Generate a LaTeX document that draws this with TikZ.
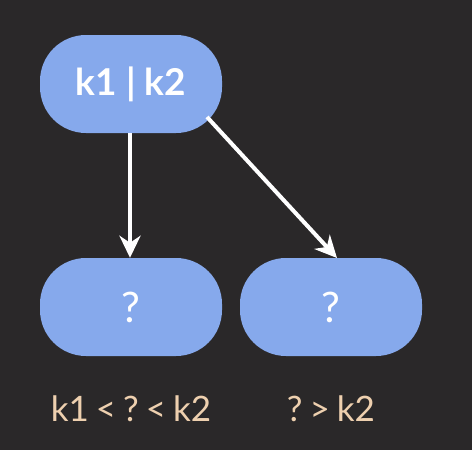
\documentclass[tikz,border=0pt]{standalone}
\usepackage{fontspec}
\setmainfont{Lato}
\usetikzlibrary{arrows.meta}
\definecolor{bg}{HTML}{2A2829}
\definecolor{nodeblue}{HTML}{86A9EC}
\definecolor{tan}{HTML}{EED0AF}
\begin{document}
\begin{tikzpicture}[x=1pt,y=-1pt,
  pill/.style={fill=nodeblue, draw=none, rounded corners=46pt, minimum width=182pt, minimum height=98pt, inner sep=0pt, text=white},
  conn/.style={draw=white, line width=4pt, -{Stealth[length=22pt,width=21pt,inset=7pt]}},
  lbl/.style={text=tan, font=\fontsize{35}{40}\selectfont}]
\fill[bg] (0,0) rectangle (472,450);
\useasboundingbox (0,0) rectangle (472,450);
\node[pill, font=\bfseries\fontsize{37}{40}\selectfont] (top) at (131,84) {k1 | k2};
\node[pill, font=\fontsize{42}{44}\selectfont] (left) at (131,307) {?};
\node[pill, font=\fontsize{42}{44}\selectfont] (right) at (331,307) {?};
\coordinate (a1s) at (130,133);
\coordinate (a2s) at (207,117);
\draw[conn] (a1s) -- (left.north -| a1s);
\draw[conn] (a2s) -- (337,258);
\node[lbl] (l1) at (131,409) {k1\hspace{0.2em}<\hspace{0.2em}?\hspace{0.2em}<\hspace{0.2em}k2};
\node[lbl] (l2) at (331,409) {?\hspace{0.2em}>\hspace{0.2em}k2};
\end{tikzpicture}
\end{document}
